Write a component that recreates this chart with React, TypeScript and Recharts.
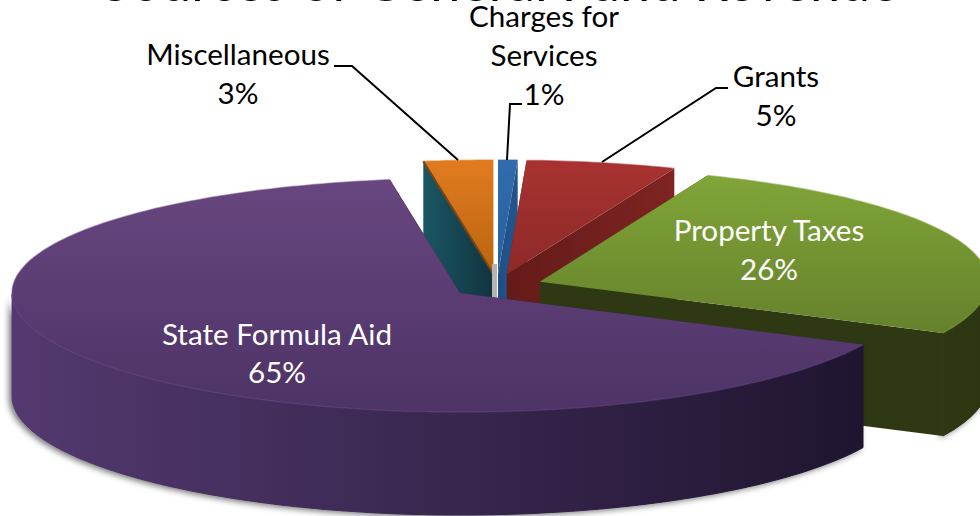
import { PieChart, Pie, Cell } from 'recharts'

const NAMES = ['Miscellaneous', 'Charges for Services', 'Grants', 'Property Taxes', 'State Formula Aid']
const VALUES = [2.5, 0.7, 5.4, 26.1, 65.3]
const PERCENT_LABELS = ['3%', '1%', '5%', '26%', '65%']

const TOP_FROM = ['#e27b20', '#2f6cae', '#a83231', '#80a538', '#68467f']
const TOP_TO = ['#b8650f', '#2a5f9b', '#8c2a28', '#66812c', '#4d3366']
const CUT_FROM = ['#1a5663', '#1f4f85', '#641b19', '#2e3812', '#2a1c3c']
const CUT_TO = ['#113440', '#23558c', '#7e2422', '#2e3812', '#2a1c3c']
const WALL_FROM = ['#164854', '#1f4f85', '#7a2321', '#2e3812', '#53396f']
const WALL_TO = ['#123640', '#1f4f85', '#5e1a18', '#2b3511', '#1f1530']

const chartData = NAMES.map((name, i) => ({ name, value: VALUES[i] }))

const WIDTH = 980
const HEIGHT = 516
const EXPLODE = 46
const DEPTH = 103
const TILT = 0.2602
const BULGE = 1.04e-5
const RAD = Math.PI / 180

// label blocks, lines are centred on x
const LABEL_LAYOUT = [
  { x: 238, lines: [{ t: 'Miscellaneous', y: 65 }, { t: PERCENT_LABELS[0], y: 104 }], color: '#000', leader: '334,66 352,66 458,160' },
  { x: 544, lines: [{ t: 'Charges for', y: 27 }, { t: 'Services', y: 66 }, { t: PERCENT_LABELS[1], y: 105 }], color: '#000', leader: '522,104 510,104 507,160' },
  { x: 776, lines: [{ t: 'Grants', y: 87 }, { t: PERCENT_LABELS[2], y: 126 }], color: '#000', leader: '728,88 716,88 602,162' },
  { x: 769, lines: [{ t: 'Property Taxes', y: 241 }, { t: PERCENT_LABELS[3], y: 280 }], color: '#fff' },
  { x: 277, lines: [{ t: 'State Formula Aid', y: 345 }, { t: PERCENT_LABELS[4], y: 383 }], color: '#fff' },
]

function Slice3D(props: any) {
  const { cx, cy, outerRadius, startAngle, endAngle, index } = props
  const mid = (startAngle + endAngle) / 2
  const ex = EXPLODE * Math.cos(mid * RAD)
  const ey = EXPLODE * Math.sin(mid * RAD)

  const project = (angle: number, r: number, z = 0) => {
    const u = r * Math.cos(angle * RAD) + ex
    const v = -(r * Math.sin(angle * RAD) + ey)
    return [cx + u, cy + v * TILT + v * v * BULGE + z]
  }
  const fmt = (p: number[]) => `${p[0].toFixed(1)},${p[1].toFixed(1)}`

  const steps = Math.max(4, Math.ceil(Math.abs(startAngle - endAngle)))
  const angles = Array.from({ length: steps + 1 }, (_, i) => startAngle + ((endAngle - startAngle) * i) / steps)
  const rim = angles.map(a => fmt(project(a, outerRadius)))
  const apex = project(0, 0)
  const apexLow = project(0, 0, DEPTH)

  const topPath = `M${fmt(apex)} L${rim.join(' L')} Z`
  const rimPath = `M${rim.join(' L')}`
  const cutFace = (a: number) =>
    `M${fmt(apex)} L${fmt(project(a, outerRadius))} L${fmt(project(a, outerRadius, DEPTH))} L${fmt(apexLow)} Z`

  const front = angles.filter(a => Math.sin(a * RAD) <= 0)
  const wallPath = front.length > 1
    ? `M${front.map(a => fmt(project(a, outerRadius))).join(' L')} L${[...front].reverse().map(a => fmt(project(a, outerRadius, DEPTH))).join(' L')} Z`
    : null

  return (
    <g>
      {index === 1 && (
        // grey sliver of shadow left of the blue slice
        <path
          d={`M${apex[0] - 6},${apex[1] - 10} L${apex[0] - 1},${apex[1] - 10} L${apex[0] - 1},${apexLow[1]} L${apex[0] - 6},${apexLow[1]} Z`}
          fill="#b4b4b4"
        />
      )}
      {wallPath && (
        <path d={wallPath} fill={WALL_FROM[index]} style={{ filter: 'drop-shadow(-3px 2px 3px rgba(0,0,0,0.55))' }} />
      )}
      <path d={cutFace(startAngle)} fill={`url(#cut-${index})`} />
      <path d={cutFace(endAngle)} fill={`url(#cut-${index})`} />
      {wallPath && <path d={wallPath} fill={`url(#wall-${index})`} stroke={`url(#wall-${index})`} strokeWidth={1} />}
      <path d={topPath} fill={`url(#top-${index})`} />
      <path d={rimPath} fill="none" stroke={TOP_FROM[index]} strokeOpacity={0.5} strokeWidth={1.5} />
      {index === 0 && (
        <path d={`M${fmt(apex)} L${fmt(project(startAngle, outerRadius))}`} stroke="#7a4510" strokeWidth={2} fill="none" />
      )}
    </g>
  )
}

function renderLabel(props: any) {
  const block = LABEL_LAYOUT[props.index]
  return (
    <g key={block.x}>
      {block.leader && <polyline points={block.leader} fill="none" stroke="#000" strokeWidth={2} />}
      {block.lines.map(line => (
        <text key={line.t} x={block.x} y={line.y} textAnchor="middle" fontSize={29.6} fill={block.color} fontFamily="Lato, sans-serif">
          {line.t}
        </text>
      ))}
    </g>
  )
}

export default function App() {
  return (
    <div style={{ position: 'absolute', left: 0, top: 0, width: WIDTH, height: HEIGHT, background: '#fff', overflow: 'hidden' }}>
      <PieChart width={WIDTH} height={HEIGHT} margin={{ top: 0, right: 0, bottom: 0, left: 0 }}>
        <defs>
          {NAMES.map((_, i) => (
            <linearGradient key={`top-${i}`} id={`top-${i}`} x1="0" y1="0" x2="0" y2="1">
              <stop offset="0%" stopColor={TOP_FROM[i]} />
              <stop offset="100%" stopColor={TOP_TO[i]} />
            </linearGradient>
          ))}
          {NAMES.map((_, i) => (
            <linearGradient key={`wall-${i}`} id={`wall-${i}`} x1="0" y1="0" x2="1" y2="0">
              <stop offset="0%" stopColor={WALL_FROM[i]} />
              <stop offset="100%" stopColor={WALL_TO[i]} />
            </linearGradient>
          ))}
          {NAMES.map((_, i) => (
            <linearGradient key={`cut-${i}`} id={`cut-${i}`} x1="0" y1="0" x2="1" y2="0">
              <stop offset="0%" stopColor={CUT_FROM[i]} />
              <stop offset="100%" stopColor={CUT_TO[i]} />
            </linearGradient>
          ))}
        </defs>
        <text x={500} y={0.6} textAnchor="middle" fontSize={54} fill="#000" fontFamily="Lato, sans-serif">
          Sources of General Fund Revenue
        </text>
        <Pie
          data={chartData}
          dataKey="value"
          nameKey="name"
          cx={497}
          cy={286}
          innerRadius={0}
          outerRadius={448}
          startAngle={99}
          endAngle={-261}
          stroke="none"
          shape={Slice3D}
          label={renderLabel}
          labelLine={false}
          isAnimationActive={false}
        >
          {chartData.map((d, i) => (
            <Cell key={d.name} fill={TOP_FROM[i]} />
          ))}
        </Pie>
      </PieChart>
    </div>
  )
}
